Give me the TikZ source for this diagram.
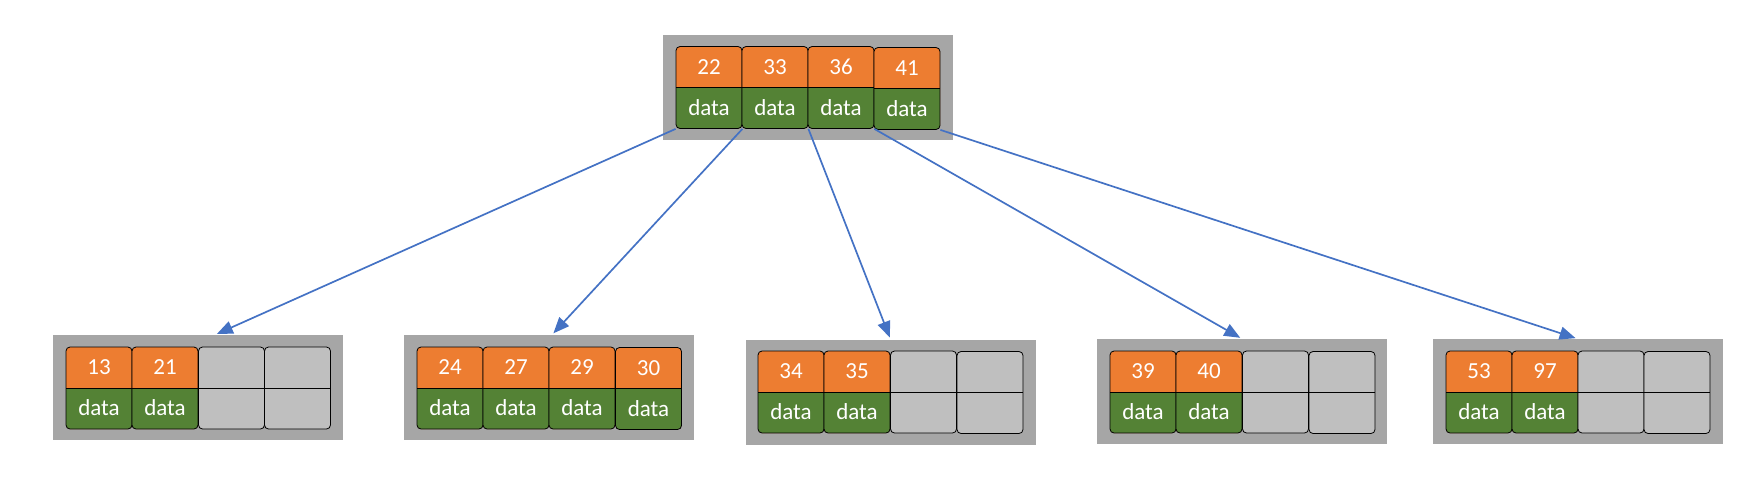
\documentclass[tikz,border=0pt]{standalone}
\usepackage{fontspec}
\setmainfont{Carlito}
\usetikzlibrary{arrows.meta}
\definecolor{keyorange}{HTML}{ED7D31}
\definecolor{datagreen}{HTML}{548235}
\definecolor{pagegray}{HTML}{A6A6A6}
\definecolor{emptygray}{HTML}{BFBFBF}
\definecolor{linkblue}{HTML}{4472C4}

\begin{document}
\begin{tikzpicture}[x=1pt,y=-1pt]
      \useasboundingbox (0,0) rectangle (1748,483);
      \tikzset{
      page/.style = {fill=pagegray, minimum width=290pt, minimum height=105pt, inner sep=0pt},
      cell/.style = {draw=black, line width=0.8pt, rounded corners=4pt, minimum width=66pt,
        minimum height=82pt, inner sep=0pt, align=center, text=white,
        font=\fontsize{23}{41}\selectfont},
      entry/.style = {cell, fill=keyorange, path picture={
        \fill[datagreen, sharp corners] (path picture bounding box.west) rectangle (path picture bounding box.south east);
        \draw[line width=0.8pt] (path picture bounding box.west) -- (path picture bounding box.east);}},
      free/.style = {cell, fill=emptygray, path picture={
        \draw[line width=0.8pt] (path picture bounding box.west) -- (path picture bounding box.east);}},
      link/.style = {draw=linkblue, line width=1.7pt, shorten >=2pt,
        -{Triangle[length=16pt,width=13pt]}} }

      \node[page] (root) at (808,87.5) {};
      \node[entry] (r22) at (709,87.5) {22\\data};
      \node[entry] (r33) at (775,87.5) {33\\data};
      \node[entry] (r36) at (841,87.5) {36\\data};
      \node[entry] (r41) at (907,88.5) {41\\data};

      \node[page] (leafA) at (198,387.5) {};
      \node[entry] (a13) at (99,388) {13\\data};
      \node[entry] (a21) at (165,388) {21\\data};
      \node[free] (a3) at (231.5,388) {};
      \node[free] (a4) at (297.5,388) {};

      \node[page] (leafB) at (549,387.5) {};
      \node[entry] (b24) at (450,388) {24\\data};
      \node[entry] (b27) at (516,388) {27\\data};
      \node[entry] (b29) at (582,388) {29\\data};
      \node[entry] (b30) at (648.5,388.5) {30\\data};

      \node[page] (leafC) at (890.5,392) {};
      \node[entry] (c34) at (791,392) {34\\data};
      \node[entry] (c35) at (857,392) {35\\data};
      \node[free] (c3) at (923.5,392) {};
      \node[free] (c4) at (990,392.5) {};

      \node[page] (leafD) at (1242,391.5) {};
      \node[entry] (d39) at (1143,392) {39\\data};
      \node[entry] (d40) at (1209,392) {40\\data};
      \node[free] (d3) at (1275.5,392) {};
      \node[free] (d4) at (1342,392.5) {};

      \node[page] (leafE) at (1577.5,391.5) {};
      \node[entry] (e53) at (1479,392) {53\\data};
      \node[entry] (e97) at (1545,392) {97\\data};
      \node[free] (e3) at (1611,392) {};
      \node[free] (e4) at (1677,392.5) {};

      \draw[link] (r22.south west) -- ([xshift=17pt]leafA.north);
      \draw[link] (r22.south east) -- ([xshift=3pt]leafB.north);
      \draw[link] (r33.south east) -- (leafC.north);
      \draw[link] (r36.south east) -- (leafD.north);
      \draw[link] (r41.south east) -- (leafE.north);
\end{tikzpicture}
\end{document}
